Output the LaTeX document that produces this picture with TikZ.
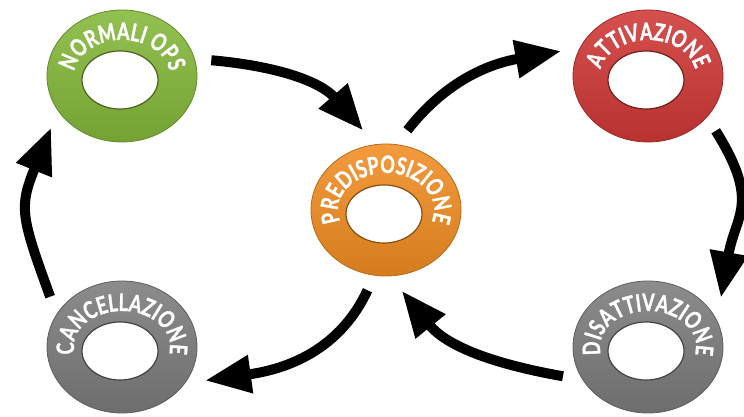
\documentclass[tikz,border=0pt]{standalone}
\usepackage{fontspec}
\newfontfamily\ringfont{Lato}[FakeStretch=0.75, FakeBold=1.2]
\usetikzlibrary{shapes.geometric,arrows.meta,decorations.text,calc}

\definecolor{ringgreen}{RGB}{132,184,58}
\definecolor{ringorange}{RGB}{242,142,34}
\definecolor{ringred}{RGB}{208,56,54}
\definecolor{ringgray}{RGB}{124,124,124}

\newcommand\ringtextfont{\fontsize{24}{26}\ringfont\bfseries}

\tikzset{
  ring/.style={ellipse, minimum width=150pt, minimum height=132pt, outer sep=16pt,
    draw=#1!75!black, line width=0.8pt, top color=#1!88!white, bottom color=#1!88!black,
    path picture={
      \fill[white] ([shift={(-2pt,-4pt)}]path picture bounding box.center) ellipse (38pt and 29pt);
      \draw[#1!55!black, line width=1.2pt] ([shift={(-2pt,-4pt)}]path picture bounding box.center) ellipse (38pt and 29pt);
    }},
  ringtext/.style={decorate, decoration={text along path, text align=center, text color=white}},
  flow/.style={line width=10pt, -{Triangle[length=46pt, width=36pt]}}
}

\begin{document}
\begin{tikzpicture}[x=1pt, y=1pt]
            \useasboundingbox (0,0) rectangle (744,417);

            \node[ring=ringgreen] (norm) at (122,341) {};
            \node[ring=ringred] (att) [right of=norm, node distance=526pt] {};
            \node[ring=ringgray] (canc) [below of=norm, node distance=271pt] {};
            \node[ring=ringgray] (dis) [right of=canc, node distance=526pt] {};
            \node[ring=ringorange] (pred) at (386,207) {};

            % labels round the rings
            \path[ringtext, decoration={text={|\ringtextfont|NORMALI OPS}}] ($(norm.center)+(220:48pt and 36pt)$) arc[start angle=220, end angle=-40, x radius=48pt, y radius=36pt];
            \path[ringtext, decoration={text={|\ringtextfont|ATTIVAZIONE}}] ($(att.center)+(220:48pt and 36pt)$) arc[start angle=220, end angle=-40, x radius=48pt, y radius=36pt];
            \path[ringtext, decoration={text={|\ringtextfont|PREDISPOSIZIONE}}] ($(pred.center)+(230:48pt and 37pt)$) arc[start angle=230, end angle=-50, x radius=48pt, y radius=37pt];
            \path[ringtext, decoration={text={|\ringtextfont|CANCELLAZIONE}}] ($(canc.center)+(230:48pt and 36pt)$) arc[start angle=230, end angle=-50, x radius=48pt, y radius=36pt];
            \path[ringtext, decoration={text={|\ringtextfont|DISATTIVAZIONE}}] ($(dis.center)+(230:48pt and 36pt)$) arc[start angle=230, end angle=-50, x radius=48pt, y radius=36pt];

            \draw [flow] (norm.10) to [out=-5, in=131] (pred.106);
            \draw [flow] (pred.75) to [out=52, in=190] (att.164);
            \draw [flow] (att.-39) to [out=-58, in=80, looseness=1.3] (dis.34);
            \draw [flow] (dis.199) to [out=170, in=-51] (pred.-79);
            \draw [flow] (pred.-103) to [out=-115, in=8] (canc.-22);
            \draw [flow] (canc.145) to [out=110, in=248, looseness=1.3] (norm.216);
        \end{tikzpicture}
\end{document}
